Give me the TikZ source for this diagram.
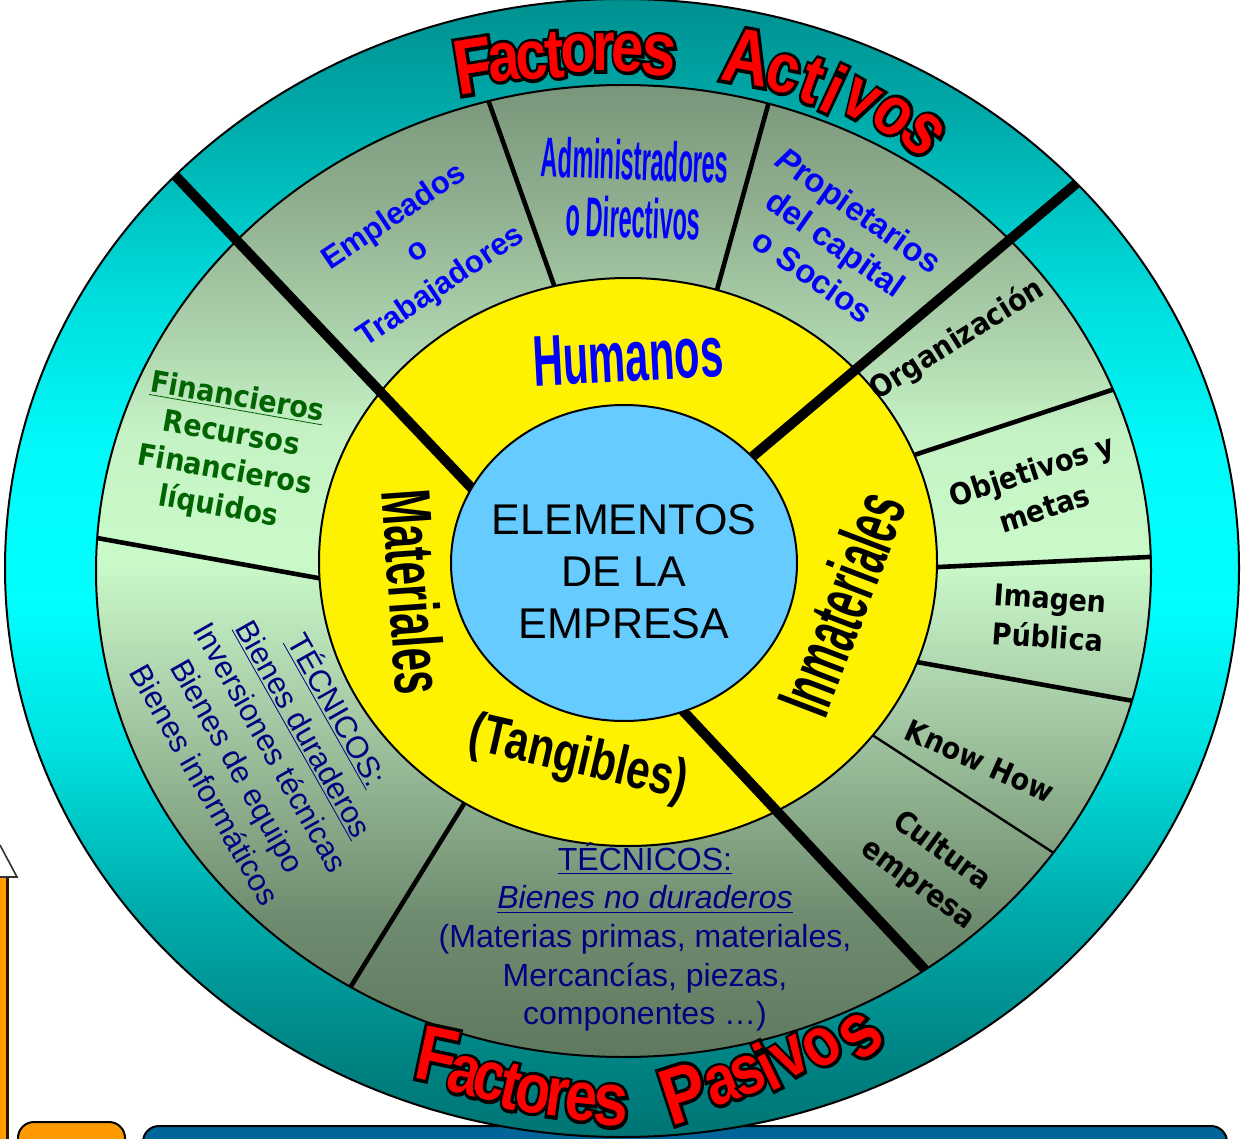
\documentclass[tikz,border=0pt]{standalone}
\usepackage{fontspec}
\setmainfont{Liberation Sans}
\newfontfamily\djv{DejaVu Sans}
\newcommand\redout[1]{\rlap{\special{pdf:literal direct 0 0 0 RG 2 Tr 2.6 w}#1\special{pdf:literal direct 0 Tr}}#1}
\definecolor{t1}{HTML}{007474}
\definecolor{t2}{HTML}{008585}
\definecolor{t3}{HTML}{00AEAE}
\definecolor{t4}{HTML}{00E0E0}
\definecolor{t5}{HTML}{00FFFF}
\definecolor{t6}{HTML}{00FAFA}
\definecolor{t7}{HTML}{00DDDD}
\definecolor{t8}{HTML}{00ABAB}
\definecolor{t9}{HTML}{009090}
\definecolor{g1}{HTML}{5F795F}
\definecolor{g2}{HTML}{6F8B6F}
\definecolor{g3}{HTML}{8DAF8D}
\definecolor{g4}{HTML}{AED4AE}
\definecolor{g5}{HTML}{CAFACA}
\definecolor{g6}{HTML}{C4F2C4}
\definecolor{g7}{HTML}{A9CEA9}
\definecolor{g8}{HTML}{8FAE8F}
\definecolor{g9}{HTML}{7A967A}
\definecolor{skyb}{HTML}{66CCFF}
\definecolor{navyt}{HTML}{000080}
\definecolor{fgreen}{HTML}{006400}
\definecolor{barblue}{HTML}{006699}
\definecolor{barorange}{HTML}{FF9900}
\definecolor{brownd}{HTML}{2A1200}
\pgfdeclareverticalshading{tealsh}{100bp}{color(0bp)=(t1); color(25bp)=(t1); color(28.8bp)=(t2); color(35.4bp)=(t3); color(42bp)=(t4); color(48.6bp)=(t5); color(55.2bp)=(t6); color(61.8bp)=(t7); color(69.7bp)=(t8); color(75bp)=(t9); color(100bp)=(t9)}
\pgfdeclareverticalshading{greensh}{100bp}{color(0bp)=(g1); color(25bp)=(g1); color(32.1bp)=(g2); color(38.2bp)=(g3); color(44.4bp)=(g4); color(50.6bp)=(g5); color(57.3bp)=(g6); color(62.9bp)=(g7); color(69.1bp)=(g8); color(75bp)=(g9); color(100bp)=(g9)}
\begin{document}
\begin{tikzpicture}[x=0.5pt,y=-0.5pt,
  tx/.style={inner sep=0pt, align=center},
  redl/.style={inner sep=0pt, text=red, font=\bfseries\fontsize{29}{30}\selectfont},
  thinrule/.style={line width=2.3pt},
  thickrule/.style={line width=5pt},
  verd/.style={tx, font=\djv\bfseries\fontsize{15}{20}\selectfont}]
\useasboundingbox (0,0) rectangle (1243,1139);

% fragments of the slide at the bottom and left
\shade[left color=barorange, right color=orange!70!yellow] (0,877) rectangle (7,1139);
\draw[brownd, line width=1.5pt] (7,877) -- (7,1139);
\draw[fill=white, draw=black!80, line width=0.8pt] (0,845) -- (17,877) -- (0,877);
\draw[fill=barorange, line width=1pt, rounded corners=8pt] (18,1160) -- (18,1122) -- (125,1122) -- (125,1160);
\draw[fill=barblue, line width=1pt, rounded corners=8pt] (143,1160) -- (143,1126) -- (1227,1126) -- (1227,1160);

% rings
\shadedraw[shading=tealsh, line width=1pt] (622,568) ellipse [x radius=308.5pt, y radius=284.5pt];
\shadedraw[shading=greensh, line width=1pt] (623.5,571) ellipse [x radius=263.75pt, y radius=243pt];
\begin{scope}
  \clip (623.5,571) ellipse [x radius=263.75pt, y radius=243pt];
  \draw[thinrule] (480,77) -- (560,302);
  \draw[thinrule] (773,87) -- (712,308);
  \draw[thinrule] (75,534) -- (340,582);
  \draw[thinrule] (475,786) -- (340,1004);
  \draw[thinrule] (893,462) -- (1130,384);
  \draw[thinrule] (918,568) -- (1170,556);
  \draw[thinrule] (900,659) -- (1150,704);
  \draw[line width=1.2pt] (860,727) -- (1080,870);
\end{scope}
\filldraw[fill=yellow, line width=1pt] (628,562) ellipse [x radius=154.5pt, y radius=142pt];
\begin{scope}
  \clip (622,568) ellipse [x radius=308.5pt, y radius=284.5pt];
  \draw[thickrule] (150,149) -- (500,518);
  \draw[thickrule] (1090,172) -- (720,484);
\end{scope}
\begin{scope}
  \clip (623.5,571) ellipse [x radius=263.75pt, y radius=243pt];
  \draw[thickrule] (670,697) -- (945,991);
\end{scope}
\filldraw[fill=skyb, line width=1pt] (624,563) ellipse [x radius=86.5pt, y radius=79pt];

% centre
\node[tx, font=\fontsize{21.5}{26}\selectfont] (centro) at (624,572) {ELEMENTOS\\DE LA\\EMPRESA};

% yellow ring
\node[tx, text=blue, font=\bfseries\fontsize{36}{40}\selectfont, rotate=3, xscale=0.58] (hum) at (628,357) {Humanos};
\node[tx, font=\bfseries\fontsize{35}{38}\selectfont, rotate=-86, xscale=0.6] (mat) at (414,592) {Materiales};
\node[tx, font=\bfseries\fontsize{38}{40}\selectfont, rotate=69, xscale=0.52] (inm) at (841,603) {Inmateriales};
\node[tx, font=\bfseries\fontsize{27.5}{30}\selectfont, rotate=-13, xscale=0.77] (tang) at (578,760) {(Tangibles)};

% green ring, top
\node[tx, text=blue, font=\bfseries\fontsize{15.5}{21}\selectfont, rotate=34] (emp) at (418,252) {Empleados\\o\\Trabajadores};
\node[tx, text=blue, font=\bfseries\fontsize{28}{30}\selectfont, rotate=-2, xscale=0.42] (adm1) at (635,160) {Administradores};
\node[tx, text=blue, font=\bfseries\fontsize{28}{30}\selectfont, rotate=-2, xscale=0.42] (adm2) at (633,218) {o Directivos};
\node[tx, text=blue, font=\bfseries\fontsize{16.5}{20}\selectfont, rotate=-35] (prop) at (836,243) {{\itshape P}ropietarios\\del capital\\o Socios};

% green ring, right
\node[verd, rotate=32, xscale=0.9] (org) at (957,340) {Organización};
\node[verd, rotate=18, xscale=0.9] (obj) at (1038,489) {Objetivos y\\metas};
\node[verd, font=\djv\bfseries\fontsize{15}{19.5}\selectfont, rotate=-4, xscale=0.9] (ima) at (1049,618) {Imagen\\Pública};
\node[verd, rotate=-24, xscale=0.9] (know) at (980,761) {Know How};
\node[verd, font=\djv\bfseries\fontsize{15}{20.5}\selectfont, rotate=-36, xscale=0.9] (cult) at (930,868) {Cultura\\empresa};

% green ring, left and bottom
\node[tx, text=fgreen, font=\djv\bfseries\fontsize{15}{18.5}\selectfont, rotate=-10, xscale=0.9] (fin) at (228,453) {\underline{Financieros}\\Recursos\\Financieros\\líquidos};
\node[tx, text=navyt, font=\fontsize{15.5}{19}\selectfont, rotate=-60.5] (tec1) at (273,746) {\underline{TÉCNICOS:}\\\underline{Bienes duraderos}\\Inversiones técnicas\\Bienes de equipo\\Bienes informáticos};
\node[tx, text=navyt, font=\fontsize{16}{19.3}\selectfont] (tec2) at (645,937) {\underline{TÉCNICOS:}\\\underline{\itshape Bienes no duraderos}\\(Materias primas, materiales,\\Mercancías, piezas,\\componentes …)};

% Factores Activos / Pasivos
\foreach \ch/\xx/\yy/\ro/\sc [count=\i] in {F/474/66/9/1.12, a/504/62/7/1, c/532/61/5/1, t/555/55/4/1, o/579/54/2/1, r/604/52/0/1, e/628/53/-3/1, s/659/56/-6/1.08,
  A/747/57/-10/1.12, c/783/74/-15/1, t/812/81/-20/1, i/834/89/-25/1, v/861/101/-30/1, o/893/116/-37/1, s/923/134/-45/1.08}
  \node[redl, rotate=\ro, scale=\sc, yscale=1.2] (fa\i) at (\xx,\yy) {\redout{\ch}};
\foreach \ch/\xx/\yy/\ro/\sc [count=\i] in {F/437/1055/-12/1.12, a/465/1076/-14/1, c/490/1082/-14/1, t/511/1087/-13/1, o/533/1094/-10/1, r/557/1098/-8/1, e/581/1102/-6/1, s/611/1106/-3/1.08,
  P/684/1093/18/1.15, a/722/1085/20/1, s/748/1075/23/1, i/767/1066/26/1, v/791/1058/30/1, o/822/1047/34/1, s/861/1036/40/1.12}
  \node[redl, rotate=\ro, scale=\sc, yscale=1.2] (fp\i) at (\xx,\yy) {\redout{\ch}};
\end{tikzpicture}
\end{document}
